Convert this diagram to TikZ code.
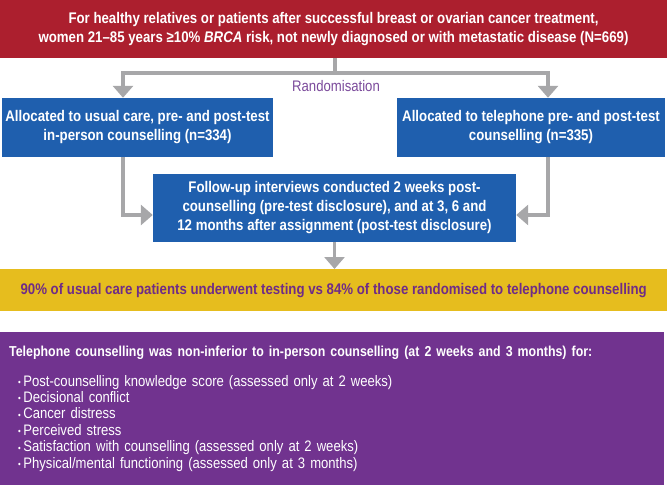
\documentclass[tikz,border=0pt]{standalone}
\usepackage{fontspec}
\setmainfont{Liberation Sans}[FakeStretch=0.86]
\usetikzlibrary{arrows.meta,positioning}
\definecolor{trialred}{HTML}{AC1F2E}
\definecolor{armblue}{HTML}{1F5FAE}
\definecolor{pipegray}{HTML}{A7A7A9}
\definecolor{resyellow}{HTML}{E6BD1E}
\definecolor{yellowtext}{HTML}{6F2C87}
\definecolor{respurple}{HTML}{71338F}
\definecolor{randpurple}{HTML}{7B4A9B}
\newcommand{\itm}{\hspace*{9pt}\raisebox{0.5pt}{\small\textbullet}\,}

\begin{document}
\begin{tikzpicture}[x=1pt,y=-1pt,
  box/.style={inner sep=0pt,text=white,align=center,
    font=\bfseries\fontsize{15.4}{19}\selectfont},
  pipe/.style={draw=pipegray,line width=3.5pt},
  arr/.style={pipe,-{Triangle[width=20pt,length=12pt]}}]
\useasboundingbox (0,0) rectangle (667,487);
% ---------- eligibility ----------
\node[box,fill=trialred,minimum width=667pt,minimum height=58pt] (trial) at (333.5,29)
  {For healthy relatives or patients after successful breast or ovarian cancer treatment,\\
   women 21--85 years ≥10\% \textit{BRCA} risk, not newly diagnosed or with metastatic disease (N=669)};
% ---------- randomised arms ----------
\node[box,fill=armblue,minimum width=271pt,minimum height=59pt] (usual) at (137.5,127.5)
  {Allocated to usual care, pre- and post-test\\ in-person counselling (n=334)};
\node[box,fill=armblue,minimum width=268pt,minimum height=59pt] (phone) at (531,127.5)
  {Allocated to telephone pre- and post-test\\ counselling (n=335)};
\node[text=randpurple,font=\fontsize{15.3}{17}\selectfont] (rand) at (336,86) {Randomisation};
% ---------- follow-up ----------
\node[box,fill=armblue,minimum width=363pt,minimum height=68pt] (follow) at (334.5,208)
  {Follow-up interviews conducted 2 weeks post-\\
   counselling (pre-test disclosure), and at 3, 6 and\\
   12 months after assignment (post-test disclosure)};
% ---------- results ----------
\node[box,fill=resyellow,text=yellowtext,minimum width=667pt,minimum height=42pt,anchor=north west] (testing) at (0,269)
  {90\% of usual care patients underwent testing vs 84\% of those randomised to telephone counselling};
\node[box,fill=respurple,align=left,inner xsep=9pt,text width=646pt,minimum height=153pt,anchor=north west,
  font=\fontsize{15.2}{16.4}\selectfont] (outcome) at (0,332)
  {{\bfseries\fontsize{14.4}{16.4}\selectfont Telephone counselling was non-inferior to in-person counselling (at 2 weeks and 3 months) for:}\\[13pt]
   \itm Post-counselling knowledge score (assessed only at 2 weeks)\\
   \itm Decisional conflict\\
   \itm Cancer distress\\
   \itm Perceived stress\\
   \itm Satisfaction with counselling (assessed only at 2 weeks)\\
   \itm Physical/mental functioning (assessed only at 3 months)};
% ---------- connectors ----------
\coordinate (split) at (335,73);
\coordinate (lx) at (123,0);
\coordinate (rx) at (548,0);
\coordinate (fy) at (0,215);
\draw[pipe] (trial.south -| split) -- (split);
\draw[arr] (split) -| (lx |- usual.north);
\draw[arr] (split) -| (rx |- phone.north);
\draw[arr] (lx |- usual.south) |- (follow.west |- fy);
\draw[arr] (rx |- phone.south) |- (follow.east |- fy);
\draw[arr] (follow.south) -- (follow.south |- testing.north);
\end{tikzpicture}
\end{document}
